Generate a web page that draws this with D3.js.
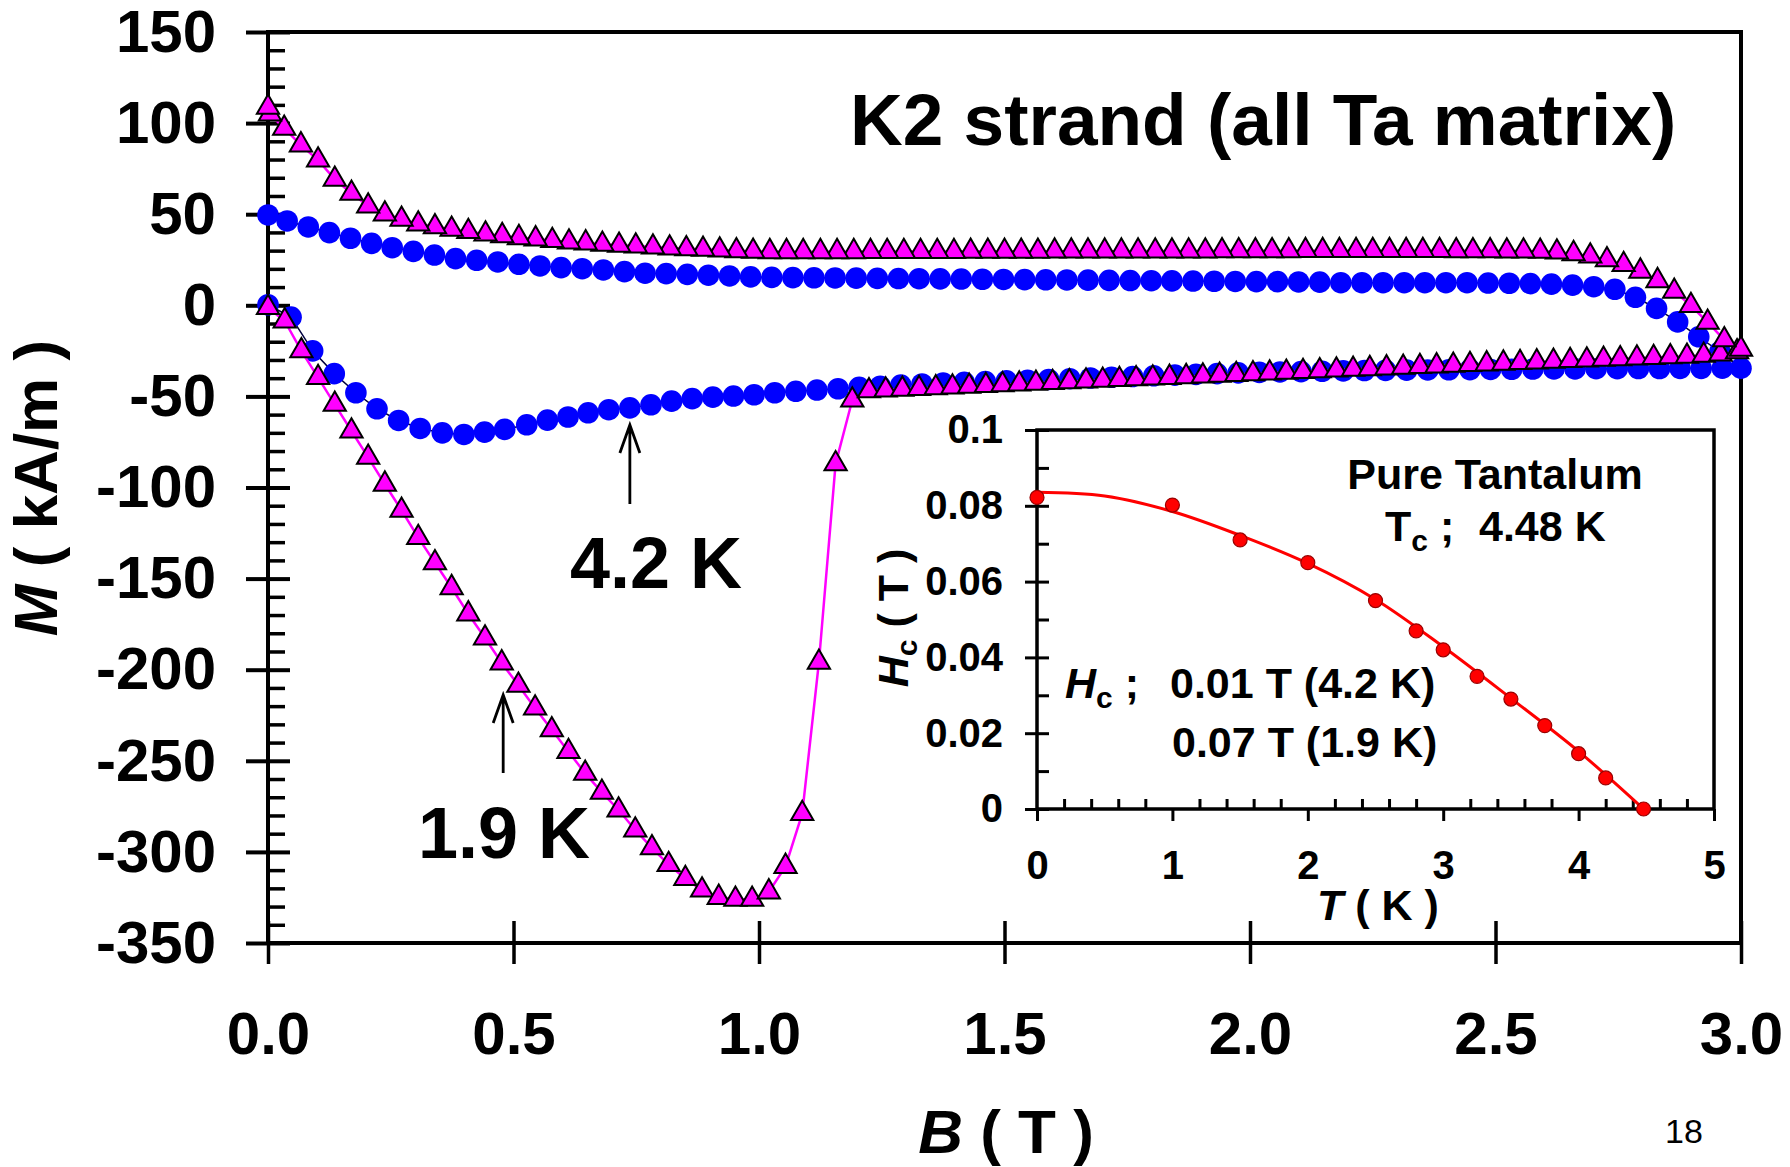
<!DOCTYPE html>
<html>
<head>
<meta charset="utf-8">
<script src="https://d3js.org/d3.v7.min.js"></script>
<style>
  body { margin: 0; background: #fff; }
  svg { display: block; }
  text { font-family: "Liberation Sans", Arial, Helvetica, sans-serif; font-weight: bold; fill: #000; white-space: pre; }
  .axis path.domain { display: none; }
</style>
</head>
<body>
<div id="chart"></div>
<script>

// ---- values ----

// 1.9 K (magenta triangles): virgin curve, then field going up, then field coming back down
var virgin19B = [0, 0.034, 0.068, 0.102, 0.136, 0.17, 0.204, 0.238, 0.272, 0.306, 0.34, 0.374, 0.408, 0.442, 0.476, 0.51, 0.544, 0.578, 0.612, 0.646, 0.68, 0.714, 0.748, 0.782, 0.816, 0.85, 0.884, 0.918, 0.952, 0.986, 1.02, 1.054, 1.088, 1.122, 1.156, 1.19];
var virgin19M = [-1.3, -8.6, -25.0, -39.7, -54.4, -69.0, -83.5, -98.2, -112.5, -127.5, -141.3, -155.0, -169.4, -182.6, -196.3, -208.6, -221.1, -233.0, -245.0, -256.9, -267.3, -277.0, -288.0, -297.8, -307.0, -314.7, -321.0, -325.0, -326.0, -326.0, -322.0, -308.0, -279.0, -196.0, -87.0, -52.0];

var up19B = [1.224, 1.258, 1.292, 1.326, 1.36, 1.394, 1.428, 1.462, 1.496, 1.53, 1.564, 1.598, 1.632, 1.666, 1.7, 1.734, 1.768, 1.802, 1.836, 1.87, 1.904, 1.938, 1.972, 2.006, 2.04, 2.074, 2.108, 2.142, 2.176, 2.21, 2.244, 2.278, 2.312, 2.346, 2.38, 2.414, 2.448, 2.482, 2.516, 2.55, 2.584, 2.618, 2.652, 2.686, 2.72, 2.754, 2.788, 2.822, 2.856, 2.89, 2.924, 2.958, 2.992];
var up19M = [-47.0, -46.5, -46.1, -45.7, -45.3, -44.9, -44.5, -44.1, -43.7, -43.2, -42.8, -42.4, -42.0, -41.6, -41.2, -40.8, -40.4, -40.0, -39.6, -39.2, -38.8, -38.4, -38.0, -37.6, -37.2, -36.8, -36.4, -36.0, -35.6, -35.2, -34.8, -34.4, -34.0, -33.6, -33.3, -32.9, -32.5, -32.2, -31.8, -31.5, -31.1, -30.8, -30.4, -30.1, -29.7, -29.4, -29.0, -28.7, -28.3, -28.0, -27.5, -26.8, -25.5];

var down19B = [3.0, 2.966, 2.932, 2.898, 2.864, 2.83, 2.795, 2.761, 2.727, 2.693, 2.659, 2.625, 2.591, 2.557, 2.523, 2.489, 2.454, 2.42, 2.386, 2.352, 2.318, 2.284, 2.25, 2.216, 2.182, 2.148, 2.113, 2.079, 2.045, 2.011, 1.977, 1.943, 1.909, 1.875, 1.841, 1.807, 1.772, 1.738, 1.704, 1.67, 1.636, 1.602, 1.568, 1.534, 1.5, 1.466, 1.431, 1.397, 1.363, 1.329, 1.295, 1.261, 1.227, 1.193, 1.159, 1.125, 1.09, 1.056, 1.022, 0.988, 0.954, 0.92, 0.886, 0.852, 0.818, 0.784, 0.749, 0.715, 0.681, 0.647, 0.613, 0.579, 0.545, 0.511, 0.477, 0.443, 0.408, 0.374, 0.34, 0.306, 0.272, 0.238, 0.204, 0.17, 0.136, 0.102, 0.067, 0.033, 0.004, 0];
var down19M = [-24.1, -19.0, -9.3, -0.2, 7.7, 13.5, 18.7, 22.3, 24.9, 27.0, 28.3, 29.2, 29.6,
  29.8, 29.8, 29.9, 29.9, 29.9, 30.0, 30.0, 30.0, 30.0, 30.0, 30.0, 30.0, 30.0, 30.0, 29.9,
  29.9, 29.9, 29.9, 29.9, 29.8, 29.8, 29.8, 29.8, 29.8, 29.7, 29.7, 29.7, 29.7, 29.7, 29.6,
  29.6, 29.6, 29.6, 29.6, 29.5, 29.5, 29.5, 29.5, 29.5, 29.5, 29.4, 29.4, 29.4, 29.4, 29.4, 29.4,
  29.6, 29.9, 30.3, 30.7, 31.0, 31.4, 32.0, 32.5, 32.9, 33.5, 34.2, 34.7, 35.5, 36.4, 37.1, 38.2,
  39.1, 40.4, 41.7, 43.1, 44.6, 47.2, 50.1, 54.5, 61.5, 69.1, 79.7, 88.0, 97.1, 105.0, 108.7];

// 4.2 K (blue circles): virgin + field going up, then field coming back down
var up42B = [0, 0.047, 0.091, 0.135, 0.179, 0.222, 0.266, 0.31, 0.355, 0.399, 0.441, 0.482, 0.527, 0.569, 0.611, 0.652, 0.694, 0.737, 0.78, 0.822, 0.864, 0.906, 0.948, 0.99, 1.032, 1.075, 1.118, 1.161, 1.204, 1.247, 1.289, 1.332, 1.375, 1.418, 1.461, 1.504, 1.547, 1.59, 1.633, 1.675, 1.718, 1.761, 1.804, 1.847, 1.89, 1.933, 1.976, 2.019, 2.061, 2.104, 2.147, 2.19, 2.233, 2.276, 2.319, 2.362, 2.405, 2.448, 2.49, 2.533, 2.576, 2.619, 2.662, 2.705, 2.748, 2.791, 2.834, 2.876, 2.919, 2.962, 3.0];
var up42M = [0.3, -6.5, -25.0, -37.5, -48.0, -56.8, -63.2, -67.6, -70.0, -70.9, -69.6, -68.1, -65.6, -63.0, -61.3, -59.0, -57.3, -56.3, -54.6, -52.6, -51.2, -50.4, -49.8, -49.1, -48.0, -47.2, -46.5, -45.8, -45.0, -44.4, -43.8, -43.2, -42.7, -42.3, -41.9, -41.5, -41.1, -40.7, -40.3, -39.9, -39.5, -39.1, -38.7, -38.3, -37.9, -37.5, -37.1, -36.8, -36.6, -36.4, -36.2, -36.0, -35.8, -35.7, -35.6, -35.5, -35.4, -35.3, -35.2, -35.1, -35.0, -34.9, -34.9, -34.8, -34.8, -34.7, -34.7, -34.6, -34.6, -34.5, -34.5];

var down42B = [2.957, 2.914, 2.871, 2.828, 2.785, 2.743, 2.7, 2.657, 2.614, 2.571, 2.528, 2.485, 2.442, 2.399, 2.356, 2.314, 2.271, 2.228, 2.185, 2.142, 2.099, 2.056, 2.013, 1.97, 1.927, 1.884, 1.841, 1.799, 1.756, 1.713, 1.67, 1.627, 1.584, 1.541, 1.498, 1.455, 1.412, 1.369, 1.326, 1.284, 1.241, 1.198, 1.155, 1.112, 1.069, 1.026, 0.983, 0.94, 0.897, 0.854, 0.811, 0.768, 0.726, 0.683, 0.64, 0.597, 0.554, 0.511, 0.468, 0.425, 0.382, 0.339, 0.296, 0.253, 0.211, 0.168, 0.125, 0.082, 0.039, 0];
var down42M = [-25.5, -17.3, -9.1, -1.7, 4.4, 8.8, 10.2, 11.1, 11.6, 11.9, 12.1, 12.2, 12.4, 12.4, 12.4, 12.4, 12.4, 12.4, 12.4, 12.7, 12.8, 13.0, 13.0, 13.1, 13.2, 13.3, 13.4, 13.5, 13.6, 13.7, 13.8, 13.9, 14.0, 14.1, 14.2, 14.3, 14.4, 14.5, 14.6, 14.7, 14.8, 14.9, 15.0, 15.1, 15.2, 15.3, 15.6, 16.1, 16.5, 17.0, 17.4, 17.6, 18.5, 19.4, 20.1, 20.7, 21.6, 22.5, 23.8, 24.7, 25.6, 27.6, 29.6, 31.6, 34.0, 36.8, 39.9, 43.0, 46.3, 49.6];

// inset: critical field of pure tantalum
var taT = [0, 1, 1.5, 2, 2.5, 2.8, 3, 3.25, 3.5, 3.75, 4, 4.2, 4.48];
var taHc = [0.0822, 0.0802, 0.071, 0.065, 0.055, 0.047, 0.042, 0.035, 0.029, 0.022, 0.0146, 0.0082, 0];
var fitT = [0, 0.5, 1, 1.5, 2, 2.5, 3, 3.5, 4, 4.48];
var fitHc = [0.0836, 0.0826, 0.0785, 0.0722, 0.0648, 0.0553, 0.0428, 0.0292, 0.0152, 0];

// tick labels
var xTicks = [0, 0.5, 1, 1.5, 2, 2.5, 3];
var yTicks = [-350, -300, -250, -200, -150, -100, -50, 0, 50, 100, 150];
var insetXTicks = [0, 1, 2, 3, 4, 5];
var insetYTicks = [0, 0.02, 0.04, 0.06, 0.08, 0.1];


var width = 1790, height = 1167;

var svg = d3.select("#chart").append("svg")
    .attr("width", width)
    .attr("height", height);

// main scales
var x = d3.scaleLinear().domain([0, 3]).range([268, 1741]);
var y = d3.scaleLinear().domain([-350, 150]).range([943, 32]);

function zip(bs, ms) {
    return bs.map(function (b, i) { return { b: b, m: ms[i] }; });
}
var data19 = zip(virgin19B, virgin19M).concat(zip(up19B, up19M), zip(down19B, down19M));
var data42 = zip(up42B, up42M).concat(zip(down42B, down42M));

// frame
svg.append("rect")
    .attr("x", x(0)).attr("y", y(150))
    .attr("width", x(3) - x(0)).attr("height", y(-350) - y(150))
    .attr("fill", "none").attr("stroke", "#000").attr("stroke-width", 4);

// y axis: major ticks cross the axis, minor ticks inside
var yMinor = d3.range(-340, 150, 10).filter(function (d) { return d % 50 !== 0; });

var yAxisG = svg.append("g").attr("class", "axis")
    .attr("transform", "translate(" + x(0) + ",0)")
    .call(d3.axisLeft(y).tickValues(yTicks).tickSize(22).tickPadding(30)
        .tickFormat(function (d) { return String(d); }));
yAxisG.attr("font-size", 60).attr("font-family", null);
yAxisG.selectAll("line").attr("stroke-width", 4);

svg.append("g").attr("class", "axis")
    .attr("transform", "translate(" + x(0) + ",0)")
    .call(d3.axisRight(y).tickValues(yTicks).tickSize(22).tickFormat(""))
    .selectAll("line").attr("stroke-width", 4);

svg.append("g").attr("class", "axis")
    .attr("transform", "translate(" + x(0) + ",0)")
    .call(d3.axisRight(y).tickValues(yMinor).tickSize(17).tickFormat(""))
    .selectAll("line").attr("stroke-width", 3.5);

// x axis
var xAxisG = svg.append("g").attr("class", "axis")
    .attr("transform", "translate(0," + y(-350) + ")")
    .call(d3.axisBottom(x).tickValues(xTicks).tickSize(21).tickPadding(47)
        .tickFormat(d3.format(".1f")));
xAxisG.attr("font-size", 60).attr("font-family", null);
xAxisG.selectAll("line").attr("stroke-width", 3.5);

svg.append("g").attr("class", "axis")
    .attr("transform", "translate(0," + y(-350) + ")")
    .call(d3.axisTop(x).tickValues(xTicks).tickSize(22).tickFormat(""))
    .selectAll("line").attr("stroke-width", 3.5);

// axis titles
svg.append("text")
    .attr("transform", "translate(57,488) rotate(-90)")
    .attr("text-anchor", "middle")
    .attr("font-size", 62)
    .call(function (t) {
        t.append("tspan").attr("font-style", "italic").text("M");
        t.append("tspan").text(" ( kA/m )");
    });

svg.append("text")
    .attr("x", 1006).attr("y", 1153)
    .attr("text-anchor", "middle")
    .attr("font-size", 62)
    .call(function (t) {
        t.append("tspan").attr("font-style", "italic").text("B");
        t.append("tspan").text(" ( T )");
    });

// series lines
var line = d3.line()
    .x(function (d) { return x(d.b); })
    .y(function (d) { return y(d.m); });

svg.append("path")
    .datum(data42)
    .attr("fill", "none")
    .attr("stroke", "#000040")
    .attr("stroke-width", 1.5)
    .attr("d", line);

svg.selectAll(".dot42")
    .data(data42)
    .enter().append("circle")
    .attr("class", "dot42")
    .attr("cx", function (d) { return x(d.b); })
    .attr("cy", function (d) { return y(d.m); })
    .attr("r", 10.8)
    .attr("fill", "#0000ff");

svg.append("path")
    .datum(data19)
    .attr("fill", "none")
    .attr("stroke", "#ff00ff")
    .attr("stroke-width", 2.5)
    .attr("d", line);

var tri = d3.symbol().type(d3.symbolTriangle).size(215);
svg.selectAll(".tri19")
    .data(data19)
    .enter().append("path")
    .attr("class", "tri19")
    .attr("transform", function (d) { return "translate(" + x(d.b) + "," + y(d.m) + ")"; })
    .attr("d", tri)
    .attr("fill", "#ff00ff")
    .attr("stroke", "#000")
    .attr("stroke-width", 2)
    .attr("stroke-linejoin", "miter");

// labels and arrows
svg.append("text")
    .attr("x", 850).attr("y", 145)
    .attr("font-size", 73)
    .text("K2 strand (all Ta matrix)");

svg.append("text").attr("x", 570).attr("y", 588).attr("font-size", 72).text("4.2 K");
svg.append("text").attr("x", 418).attr("y", 858).attr("font-size", 72).text("1.9 K");

function arrow(b, mTip, mTail) {
    var px = x(b), tip = y(mTip), tail = y(mTail);
    svg.append("path")
        .attr("d", "M" + px + "," + tail + "L" + px + "," + tip +
            "M" + (px - 10) + "," + (tip + 28) + "L" + px + "," + tip + "L" + (px + 10) + "," + (tip + 28))
        .attr("fill", "none")
        .attr("stroke", "#000")
        .attr("stroke-width", 2.8);
}
arrow(0.737, -65.7, -109);
arrow(0.479, -213.9, -256.7);

// page number
svg.append("text")
    .attr("x", 1684).attr("y", 1143)
    .attr("text-anchor", "middle")
    .attr("font-size", 34)
    .style("font-weight", "normal")
    .text("18");

// ---- inset ----
var xi = d3.scaleLinear().domain([0, 5]).range([1037, 1714]);
var yi = d3.scaleLinear().domain([0, 0.1]).range([809, 430]);

svg.append("rect")
    .attr("x", xi(0)).attr("y", yi(0.1))
    .attr("width", xi(5) - xi(0)).attr("height", yi(0) - yi(0.1))
    .attr("fill", "#fff").attr("stroke", "#000").attr("stroke-width", 3.5);

var iyMinor = [0.01, 0.03, 0.05, 0.07, 0.09];
var ixMinor = d3.range(0.2, 5, 0.2).filter(function (d) { return Math.abs(d - Math.round(d)) > 0.01; });

var iyAxisG = svg.append("g").attr("class", "axis")
    .attr("transform", "translate(" + xi(0) + ",0)")
    .call(d3.axisLeft(yi).tickValues(insetYTicks).tickSize(12).tickPadding(22)
        .tickFormat(function (d) { return String(d); }));
iyAxisG.attr("font-size", 40).attr("font-family", null);
iyAxisG.selectAll("line").attr("stroke-width", 3);

svg.append("g").attr("class", "axis")
    .attr("transform", "translate(" + xi(0) + ",0)")
    .call(d3.axisRight(yi).tickValues(insetYTicks.concat(iyMinor)).tickSize(12).tickFormat(""))
    .selectAll("line").attr("stroke-width", 3);

var ixAxisG = svg.append("g").attr("class", "axis")
    .attr("transform", "translate(0," + yi(0) + ")")
    .call(d3.axisBottom(xi).tickValues(insetXTicks).tickSize(12).tickPadding(30)
        .tickFormat(function (d) { return String(d); }));
ixAxisG.attr("font-size", 40).attr("font-family", null);
ixAxisG.selectAll("line").attr("stroke-width", 3);

svg.append("g").attr("class", "axis")
    .attr("transform", "translate(0," + yi(0) + ")")
    .call(d3.axisTop(xi).tickValues(ixMinor).tickSize(10).tickFormat(""))
    .selectAll("line").attr("stroke-width", 3);

// inset fit curve and points
var fitLine = d3.line()
    .x(function (d) { return xi(d.t); })
    .y(function (d) { return yi(d.h); })
    .curve(d3.curveCatmullRom);

svg.append("path")
    .datum(fitT.map(function (t, i) { return { t: t, h: fitHc[i] }; }))
    .attr("fill", "none")
    .attr("stroke", "#ff0000")
    .attr("stroke-width", 3)
    .attr("d", fitLine);

svg.selectAll(".ta")
    .data(taT.map(function (t, i) { return { t: t, h: taHc[i] }; }))
    .enter().append("circle")
    .attr("class", "ta")
    .attr("cx", function (d) { return xi(d.t); })
    .attr("cy", function (d) { return yi(d.h); })
    .attr("r", 7)
    .attr("fill", "#ff0000")
    .attr("stroke", "#990000")
    .attr("stroke-width", 1.2);

// inset titles
svg.append("text")
    .attr("transform", "translate(908,618) rotate(-90)")
    .attr("text-anchor", "middle")
    .attr("font-size", 43)
    .call(function (t) {
        t.append("tspan").attr("font-style", "italic").text("H");
        t.append("tspan").attr("font-size", 30).attr("dy", 9).text("c");
        t.append("tspan").attr("dy", -9).text(" ( T )");
    });

svg.append("text")
    .attr("x", 1378).attr("y", 920)
    .attr("text-anchor", "middle")
    .attr("font-size", 43)
    .call(function (t) {
        t.append("tspan").attr("font-style", "italic").text("T");
        t.append("tspan").text(" ( K )");
    });

svg.append("text")
    .attr("x", 1495).attr("y", 489)
    .attr("text-anchor", "middle")
    .attr("font-size", 43)
    .text("Pure Tantalum");

svg.append("text")
    .attr("x", 1385).attr("y", 541)
    .attr("font-size", 43)
    .call(function (t) {
        t.append("tspan").text("T");
        t.append("tspan").attr("font-size", 30).attr("dy", 10).text("c");
        t.append("tspan").attr("dy", -10).text(" ;");
        t.append("tspan").attr("x", 1479).text("4.48 K");
    });

svg.append("text")
    .attr("x", 1065).attr("y", 698)
    .attr("font-size", 43)
    .call(function (t) {
        t.append("tspan").attr("font-style", "italic").text("H");
        t.append("tspan").attr("font-size", 30).attr("dy", 10).text("c");
        t.append("tspan").attr("dy", -10).text(" ;");
        t.append("tspan").attr("x", 1170).text("0.01 T (4.2 K)");
    });

svg.append("text")
    .attr("x", 1172).attr("y", 757)
    .attr("font-size", 43)
    .text("0.07 T (1.9 K)");

</script>
</body>
</html>
